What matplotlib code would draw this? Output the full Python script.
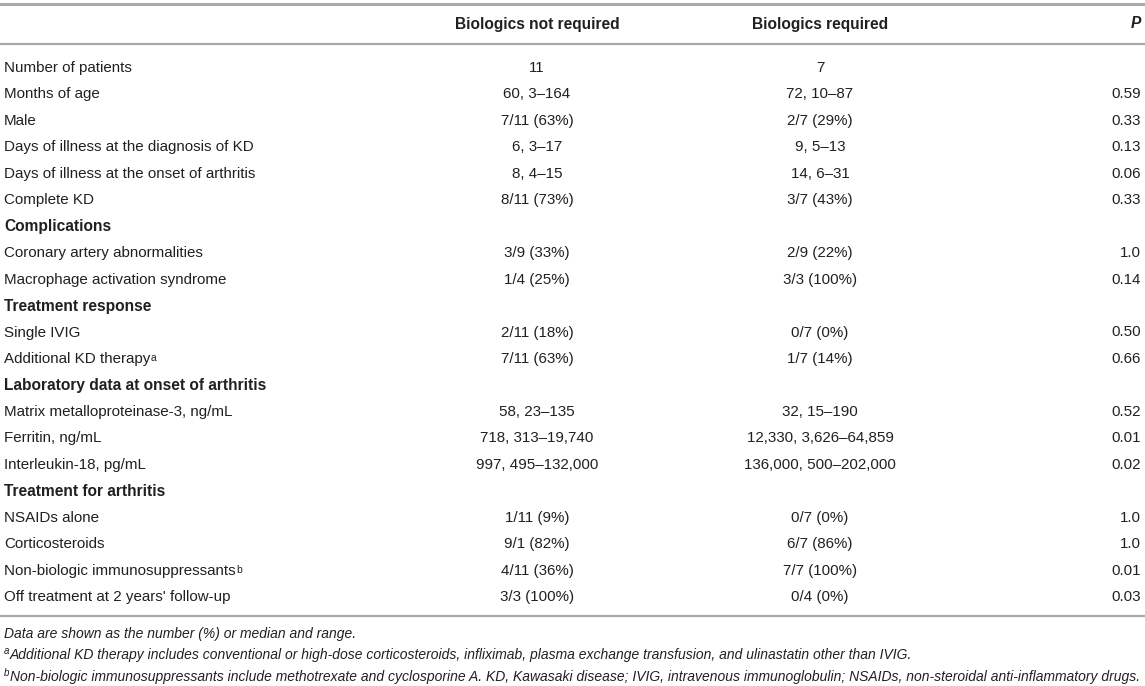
import matplotlib
matplotlib.use("Agg")
import matplotlib.pyplot as plt
from matplotlib import font_manager

# ---- data ----
col_headers = ["Biologics not required", "Biologics required", "P"]
row_labels = [
    "Number of patients", "Months of age", "Male",
    "Days of illness at the diagnosis of KD", "Days of illness at the onset of arthritis",
    "Complete KD", "Complications", "Coronary artery abnormalities",
    "Macrophage activation syndrome", "Treatment response", "Single IVIG",
    "Additional KD therapy", "Laboratory data at onset of arthritis",
    "Matrix metalloproteinase-3, ng/mL", "Ferritin, ng/mL", "Interleukin-18, pg/mL",
    "Treatment for arthritis", "NSAIDs alone", "Corticosteroids",
    "Non-biologic immunosuppressants", "Off treatment at 2 years' follow-up",
]
row_superscripts = ["", "", "", "", "", "", "", "", "", "", "", "a", "", "", "", "", "", "", "", "b", ""]
section_rows = ["Complications", "Treatment response", "Laboratory data at onset of arthritis",
                "Treatment for arthritis"]
not_required = ["11", "60, 3–164", "7/11 (63%)", "6, 3–17", "8, 4–15", "8/11 (73%)", "",
                "3/9 (33%)", "1/4 (25%)", "", "2/11 (18%)", "7/11 (63%)", "",
                "58, 23–135", "718, 313–19,740", "997, 495–132,000", "",
                "1/11 (9%)", "9/1 (82%)", "4/11 (36%)", "3/3 (100%)"]
required = ["7", "72, 10–87", "2/7 (29%)", "9, 5–13", "14, 6–31", "3/7 (43%)", "",
            "2/9 (22%)", "3/3 (100%)", "", "0/7 (0%)", "1/7 (14%)", "",
            "32, 15–190", "12,330, 3,626–64,859", "136,000, 500–202,000", "",
            "0/7 (0%)", "6/7 (86%)", "7/7 (100%)", "0/4 (0%)"]
p_values = ["", "0.59", "0.33", "0.13", "0.06", "0.33", "",
            "1.0", "0.14", "", "0.50", "0.66", "",
            "0.52", "0.01", "0.02", "",
            "1.0", "1.0", "0.01", "0.03"]
footnotes = [
    ("", "Data are shown as the number (%) or median and range."),
    ("a", "Additional KD therapy includes conventional or high-dose corticosteroids, infliximab, plasma exchange transfusion, and ulinastatin other than IVIG."),
    ("b", "Non-biologic immunosuppressants include methotrexate and cyclosporine A. KD, Kawasaki disease; IVIG, intravenous immunoglobulin; NSAIDs, non-steroidal anti-inflammatory drugs."),
]

# ---- layout ----
W, H = 1145, 686
fig = plt.figure(figsize=(W / 100, H / 100), dpi=100)
ax = fig.add_axes([0, 0, 1, 1])
ax.set_xlim(0, W)
ax.set_ylim(H, 0)
ax.axis("off")

FONT = "Liberation Sans"
installed = {f.name for f in font_manager.fontManager.ttflist}
FN_FONT = "Liberation Sans Narrow" if "Liberation Sans Narrow" in installed else FONT
TXT = "#231f20"
RULE = "#a7a9ac"
FS = 10.9
FS_B = 11.2

x_label = 4
x_c1 = 537
x_c2 = 820
x_p = 1141
y_header = 24
y_first = 68
dy = 26.45

ax.axhline(4, color=RULE, lw=2.2)
ax.axhline(43.5, color=RULE, lw=1.6)
ax.axhline(616, color=RULE, lw=1.6)

ax.text(x_c1, y_header, col_headers[0], ha="center", va="center", fontsize=FS_B,
        fontweight="bold", family=FONT, color=TXT)
ax.text(x_c2, y_header, col_headers[1], ha="center", va="center", fontsize=FS_B,
        fontweight="bold", family=FONT, color=TXT)
ax.text(x_p, y_header, col_headers[2], ha="right", va="center", fontsize=FS_B,
        fontweight="bold", fontstyle="italic", family=FONT, color=TXT)

fig.canvas.draw()
renderer = fig.canvas.get_renderer()

def add_sup(t, sup, fs):
    bb = t.get_window_extent(renderer=renderer)
    xd, yd = ax.transData.inverted().transform((bb.x1 + 0.5, bb.y1 - 1))
    ax.text(xd, yd, sup, ha="left", va="top", fontsize=fs * 0.68, family=FONT, color=TXT)

for i, lab in enumerate(row_labels):
    y = y_first + i * dy
    bold = lab in section_rows
    t = ax.text(x_label, y, lab, ha="left", va="center", fontsize=FS_B if bold else FS,
                fontweight="bold" if bold else "normal", family=FONT, color=TXT)
    if row_superscripts[i]:
        add_sup(t, row_superscripts[i], FS)
    ax.text(x_c1, y, not_required[i], ha="center", va="center", fontsize=FS, family=FONT, color=TXT)
    ax.text(x_c2, y, required[i], ha="center", va="center", fontsize=FS, family=FONT, color=TXT)
    ax.text(x_p, y, p_values[i], ha="right", va="center", fontsize=FS, family=FONT, color=TXT)

# footnote size chosen so that the longest footnote fills the table width
probe = ax.text(0, 0, footnotes[2][1], fontsize=10, family=FN_FONT, fontstyle="italic")
pw = probe.get_window_extent(renderer=renderer).width
probe.remove()
FN_FS = min(10.5, 10 * (W - 4 - 10) / pw)

for j, (sup, txt) in enumerate(footnotes):
    y = 634 + j * 21.5
    x0 = x_label
    if sup:
        ts = ax.text(x0, y - 4, sup, ha="left", va="center", fontsize=FN_FS * 0.7,
                     family=FN_FONT, color=TXT, fontstyle="italic")
        bb = ts.get_window_extent(renderer=renderer)
        x0 = ax.transData.inverted().transform((bb.x1 + 0.5, 0))[0]
    ax.text(x0, y, txt, ha="left", va="center", fontsize=FN_FS, family=FN_FONT,
            color=TXT, fontstyle="italic")

fig.savefig("out.png", dpi=100, facecolor="white")
